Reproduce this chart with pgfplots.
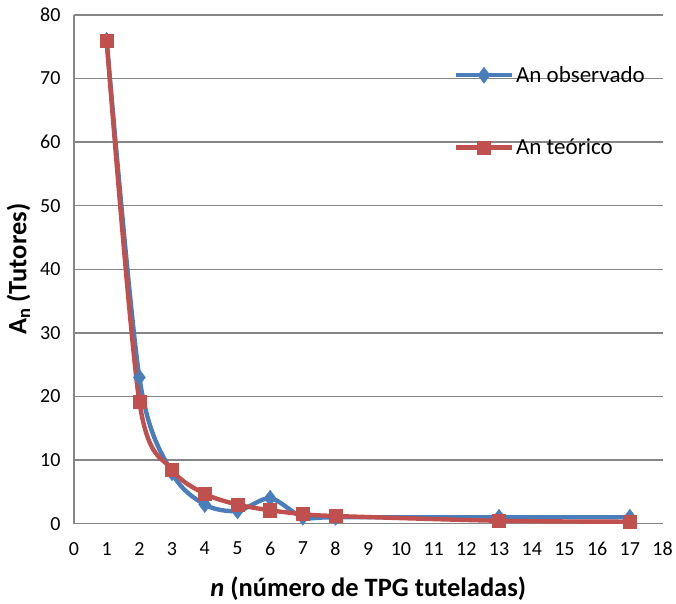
\documentclass[border=0pt]{standalone}
\usepackage{pgfplots}
\pgfplotsset{compat=1.18}
\usepackage{fontspec}
\setmainfont{Carlito}
\definecolor{obsblue}{RGB}{74,126,187}
\definecolor{teored}{RGB}{192,80,77}
\definecolor{axgray}{RGB}{134,134,134}

\begin{document}
\begin{tikzpicture}[x=1pt,y=1pt]
% fixed page frame
\path (0,0) rectangle (676,602);
\begin{axis}[
  at={(74pt,78pt)}, anchor=south west,
  scale only axis,
  width=589pt, height=509pt,
  xmin=0, xmax=18, ymin=0, ymax=80,
  xtick={0,1,...,18}, ytick={0,10,...,80},
  major tick length=0pt,
  axis x line*=bottom, axis y line*=left,
  axis line style={axgray, line width=1.6pt},
  ymajorgrids, grid style={axgray, line width=1.3pt},
  every axis plot/.append style={line width=4.4pt},
  ticklabel style={font=\fontsize{20}{22}\selectfont},
  /pgf/number format/assume math mode=true,
  xticklabel style={yshift=-15pt},
  yticklabel style={xshift=-10pt},
  xlabel={\textbf{\textit{n} (número de TPG tuteladas)}},
  ylabel={\textbf{A\textsubscript{n} (Tutores)}},
  label style={font=\fontsize{26.5}{30}\selectfont},
  xlabel style={yshift=-14pt},
  ylabel style={yshift=3pt},
  legend style={at={(0.645,0.903)}, anchor=north west, draw=none, fill=none,
    inner sep=0pt, font=\fontsize{23}{27}\selectfont, row sep=51pt,
    /tikz/every even column/.append style={column sep=2pt}},
  legend cell align=left,
  legend image code/.code={%
    \draw[#1, mark=none] (0pt,0pt) -- (56pt,0pt);
    \draw[#1, line width=0pt] plot coordinates {(28pt,0pt)};},
]
\addplot[obsblue, smooth, tension=0.5, mark=diamond*, mark size=8pt,
  mark options={solid, line width=0.5pt, fill=obsblue}]
  coordinates {(1,76) (2,23) (3,8) (4,3) (5,2) (6,4) (7,1) (8,1) (13,1) (17,1)};
\addlegendentry{An observado}
\addplot[teored, smooth, tension=0.5, mark=square*, mark size=6.6pt,
  mark options={solid, line width=0.5pt, fill=teored}]
  coordinates {(1,76) (2,19.2) (3,8.5) (4,4.7) (5,3) (6,2.1) (7,1.5) (8,1.2) (13,0.45) (17,0.3)};
\addlegendentry{An teórico}
\end{axis}
\end{tikzpicture}
\end{document}
